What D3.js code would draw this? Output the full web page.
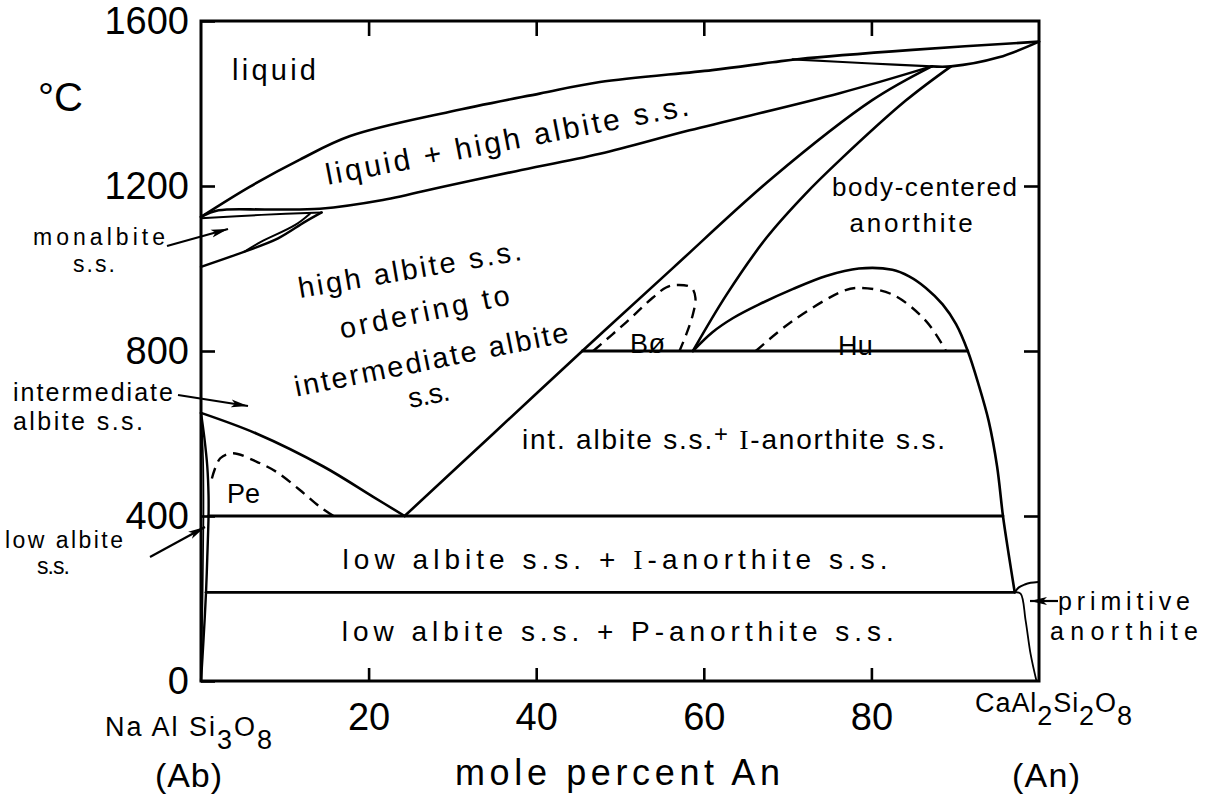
<!DOCTYPE html>
<html>
<head>
<meta charset="utf-8">
<script src="https://cdn.jsdelivr.net/npm/d3@7"></script>
<style>
  html, body { margin: 0; background: #fff; }
  svg { display: block; }
  text { font-family: "Liberation Sans", "DejaVu Sans", sans-serif; fill: #000; }
</style>
</head>
<body>
<svg id="chart" width="1212" height="800"></svg>
<script>
// Plagioclase feldspar (NaAlSi3O8 - CaAl2Si2O8) phase boundaries, points as [mole % An, °C]
const liquidus   = [[0,1125],[5.8,1198],[11.8,1264],[17.8,1321],[29.7,1380],[40.4,1424],[47.6,1452],[61,1481],[68.2,1500],[71.4,1508],[84.9,1530],[100,1550]];
const solidusAb  = [[0,1125],[2.1,1141],[8,1143],[14.2,1145],[21.7,1166],[29.7,1202],[37.6,1236],[47.6,1278],[58.3,1335],[76.2,1425],[87.2,1490]];
const liqBranch  = [[70.6,1507],[80,1497],[87.2,1490]];
const solidusAn  = [[87.2,1490],[89.5,1490],[95.2,1512],[100,1550]];
const lensLower  = [[0,1122],[7.2,1130],[14.4,1136]];
const monalbLow  = [[0,1004],[5.2,1041],[9.2,1073],[12.4,1113],[14.4,1136]];
const monalbUp   = [[5.2,1041],[7.2,1065],[11.2,1105],[13.0,1133]];
const orderLeft  = [[24.3,400],[35,602],[45.5,800],[56.3,1001],[68.2,1220],[80.1,1408],[87.2,1490]];
const orderRight = [[58.7,800],[62.7,936],[67.5,1075],[72,1178],[76.2,1262],[84.1,1407],[89.5,1490]];
const anSolvus   = [[58.7,800],[61,845],[63.5,880],[66.6,913],[70.6,950],[74.6,982],[78.5,1000],[82.5,997],[84.5,981],[86.5,953],[88.5,913],[90.1,865],[91.5,800],[92.8,718],[94.0,630],[95.0,520],[95.7,400],[96.4,305],[97.1,215]];
const huDash     = [[66.2,800],[70.6,873],[76.6,945],[78.5,953],[82.5,937],[86.5,873],[88.9,800]];
const boDash     = [[46.8,800],[50.7,869],[53.9,929],[55.5,954],[56.7,960],[58.5,954],[59.0,929],[58.7,889],[57.9,840],[57.1,800]];
const peDash     = [[1.3,491],[2.3,540],[3.8,552],[6.6,532],[9.0,507],[11.8,463],[14.2,422],[15.8,400]];
const intAlbite  = [[0,650],[6.6,600],[14.6,520],[20.5,447],[24.3,400]];
const lowAlbA    = [[0,650],[0.4,590],[0.75,520],[0.9,450],[0.9,400],[0.75,300],[0.6,215],[0.3,100],[0,0]];
const lowAlbB    = [[0,650],[0.25,540],[0.3,400],[0.2,215],[0,0]];
const anWedge    = [[97.1,215],[97.8,212],[98.4,147],[99.0,65],[99.7,0]];
const primLoop   = [[97.1,215],[97.6,227],[98.3,234],[99.0,238],[99.9,240]];
const iso800     = [[45.5,800],[91.5,800]];
const iso400     = [[0.9,400],[95.7,400]];
const iso215     = [[0.6,215],[97.1,215]];

const yTicks = [0,400,800,1200,1600];
const xTicks = [20,40,60,80];
const innerY = [400,800,1200];

const fieldNames = ["liquid","liquid + high albite s.s.","high albite s.s.","ordering to","intermediate albite","s.s.",
  "int. albite s.s.+ I-anorthite s.s.","low albite s.s. + I-anorthite s.s.","low albite s.s. + P-anorthite s.s.",
  "Pe","Bø","Hu","body-centered","anorthite"];
const xTitle = "mole percent An";
const yUnit = "°C";

const svg = d3.select("#chart");
const x = d3.scaleLinear().domain([0,100]).range([201,1039]);
const y = d3.scaleLinear().domain([0,1600]).range([681,21]);

const smooth = d3.line().x(d => x(d[0])).y(d => y(d[1])).curve(d3.curveCatmullRom.alpha(0.5));
const straight = d3.line().x(d => x(d[0])).y(d => y(d[1]));

function stroke(data, w, gen, dash) {
  svg.append("path")
    .attr("d", (gen || smooth)(data))
    .attr("fill", "none").attr("stroke", "#000")
    .attr("stroke-width", w)
    .attr("stroke-linejoin", "round")
    .attr("stroke-linecap", dash ? "butt" : "round")
    .attr("stroke-dasharray", dash || null);
}

// frame
svg.append("rect")
  .attr("x", x(0)).attr("y", y(1600))
  .attr("width", x(100) - x(0)).attr("height", y(0) - y(1600))
  .attr("fill", "none").attr("stroke", "#000").attr("stroke-width", 3);

// axes with inward ticks
const axLeft = svg.append("g").attr("transform", `translate(${x(0)},0)`)
  .call(d3.axisLeft(y).tickValues(yTicks).tickSizeInner(-14).tickSizeOuter(0).tickPadding(12).tickFormat(d3.format("d")));
const axBottom = svg.append("g").attr("transform", `translate(0,${y(0)})`)
  .call(d3.axisBottom(x).tickValues(xTicks).tickSizeInner(-13).tickSizeOuter(0).tickPadding(22).tickFormat(d3.format("d")));
const axTop = svg.append("g").attr("transform", `translate(0,${y(1600)})`)
  .call(d3.axisTop(x).tickValues(xTicks).tickSizeInner(-15).tickSizeOuter(0).tickFormat(""));
const axRight = svg.append("g").attr("transform", `translate(${x(100)},0)`)
  .call(d3.axisRight(y).tickValues(innerY).tickSizeInner(-15).tickSizeOuter(0).tickFormat(""));
[axLeft, axBottom, axTop, axRight].forEach(g => {
  g.select(".domain").remove();
  g.selectAll("line").attr("stroke", "#000").attr("stroke-width", 2.6);
  g.selectAll("text").attr("font-size", 38).attr("fill", "#000");
});

// phase boundaries
stroke(liquidus, 2.6);
stroke(solidusAb, 2.6);
stroke(liqBranch, 2.2);
stroke(solidusAn, 2.6);
stroke(lensLower, 2);
stroke(monalbLow, 2.4);
stroke(monalbUp, 2);
stroke(orderLeft, 2.6);
stroke(orderRight, 2.6);
stroke(anSolvus, 2.6);
stroke(intAlbite, 2.6);
stroke(lowAlbA, 2.4);
stroke(lowAlbB, 1.6);
stroke(anWedge, 1.8);
stroke(primLoop, 2);
stroke(iso800, 2.8, straight);
stroke(iso400, 2.8, straight);
stroke(iso215, 2.8, straight);
stroke(huDash, 2.4, smooth, "11,7");
stroke(boDash, 2.4, smooth, "11,7");
stroke(peDash, 2.4, smooth, "11,7");

// field names, placed in data coordinates
function field(i, xv, tv, size, len, angle, anchor) {
  const t = svg.append("text")
    .attr("transform", `translate(${x(xv)},${y(tv)}) rotate(${angle || 0})`)
    .attr("font-size", size)
    .attr("text-anchor", anchor || "start")
    .attr("textLength", len).attr("lengthAdjust", "spacing");
  const s = fieldNames[i];
  if (s.includes("I-")) {
    const k = s.indexOf("I-");
    const pre = s.slice(0, k);
    const plus = pre.lastIndexOf("+");
    if (i === 6) {
      t.append("tspan").text(pre.slice(0, plus));
      t.append("tspan").attr("dy", -7).attr("font-size", size * 0.85).text("+");
      t.append("tspan").attr("dy", 7).text(" ");
    } else {
      t.append("tspan").text(pre);
    }
    t.append("tspan").attr("font-family", "Liberation Serif, serif").text("I");
    t.append("tspan").text(s.slice(k + 1));
  } else {
    t.text(s);
  }
  return t;
}
field(0, 3.7, 1457, 29, 84);
field(1, 36.75, 1287, 30, 369, -10.9, "middle");
field(2, 25.1, 974.5, 29, 226, -9.7, "middle");
field(3, 26.9, 871.5, 29, 173, -11.5, "middle");
field(4, 27.7, 756, 29, 279, -11.4, "middle");
field(5, 27.4, 671.5, 28, 42, -11, "middle");
field(6, 38.3, 562, 28, 423);
field(7, 16.9, 271.5, 28, 545);
field(8, 16.8, 97, 28, 552);
field(9, 3.1, 431.5, 27, 33);
field(10, 51.2, 795, 27, 35);
field(11, 76.0, 790, 27, 35);
field(12, 75.3, 1176, 26, 185);
field(13, 77.4, 1088, 26, 123);

// labels outside the frame
function note(str, px, py, size, len, anchor) {
  const t = svg.append("text").attr("x", px).attr("y", py)
    .attr("font-size", size).attr("text-anchor", anchor || "start").text(str);
  if (len) t.attr("textLength", len).attr("lengthAdjust", "spacing");
  return t;
}
note(yUnit, 38, 111, 40);
note(xTitle, 455, 785, 36, 325);
note("monalbite", 33, 245, 23, 132);
note("s.s.", 73, 272, 23, 42);
note("intermediate", 13, 401, 25, 160);
note("albite s.s.", 13, 430, 25, 130);
note("low albite", 5, 548, 23, 118);
note("s.s.", 37, 574, 23, 33);
note("primitive", 1058, 610, 25, 132);
note("anorthite", 1050, 640, 25, 148);

// end-member formulas
const ab = svg.append("text").attr("x", 105).attr("y", 736).attr("font-size", 27)
  .attr("textLength", 167).attr("lengthAdjust", "spacing");
ab.append("tspan").text("Na Al Si");
ab.append("tspan").attr("dy", 13).text("3");
ab.append("tspan").attr("dy", -13).text("O");
ab.append("tspan").attr("dy", 13).text("8");
note("(Ab)", 155, 787, 34, 67);
const an = svg.append("text").attr("x", 975).attr("y", 712).attr("font-size", 27)
  .attr("textLength", 157).attr("lengthAdjust", "spacing");
an.append("tspan").text("CaAl");
an.append("tspan").attr("dy", 13).text("2");
an.append("tspan").attr("dy", -13).text("Si");
an.append("tspan").attr("dy", 13).text("2");
an.append("tspan").attr("dy", -13).text("O");
an.append("tspan").attr("dy", 13).text("8");
note("(An)", 1012, 787, 34, 68);

// pointer arrows
svg.append("defs").append("marker")
  .attr("id", "head").attr("markerUnits", "userSpaceOnUse")
  .attr("markerWidth", 18).attr("markerHeight", 10)
  .attr("refX", 17).attr("refY", 5).attr("orient", "auto")
  .append("path").attr("d", "M0,1 L17,5 L0,9 L4,5 Z").attr("fill", "#000");
const arrows = [[167,246,228,229],[178,395,248,406],[150,557,205,527],[1058,601,1030,601]];
arrows.forEach(a => {
  svg.append("line").attr("x1", a[0]).attr("y1", a[1]).attr("x2", a[2]).attr("y2", a[3])
    .attr("stroke", "#000").attr("stroke-width", 2.2).attr("marker-end", "url(#head)");
});
</script>
</body>
</html>
